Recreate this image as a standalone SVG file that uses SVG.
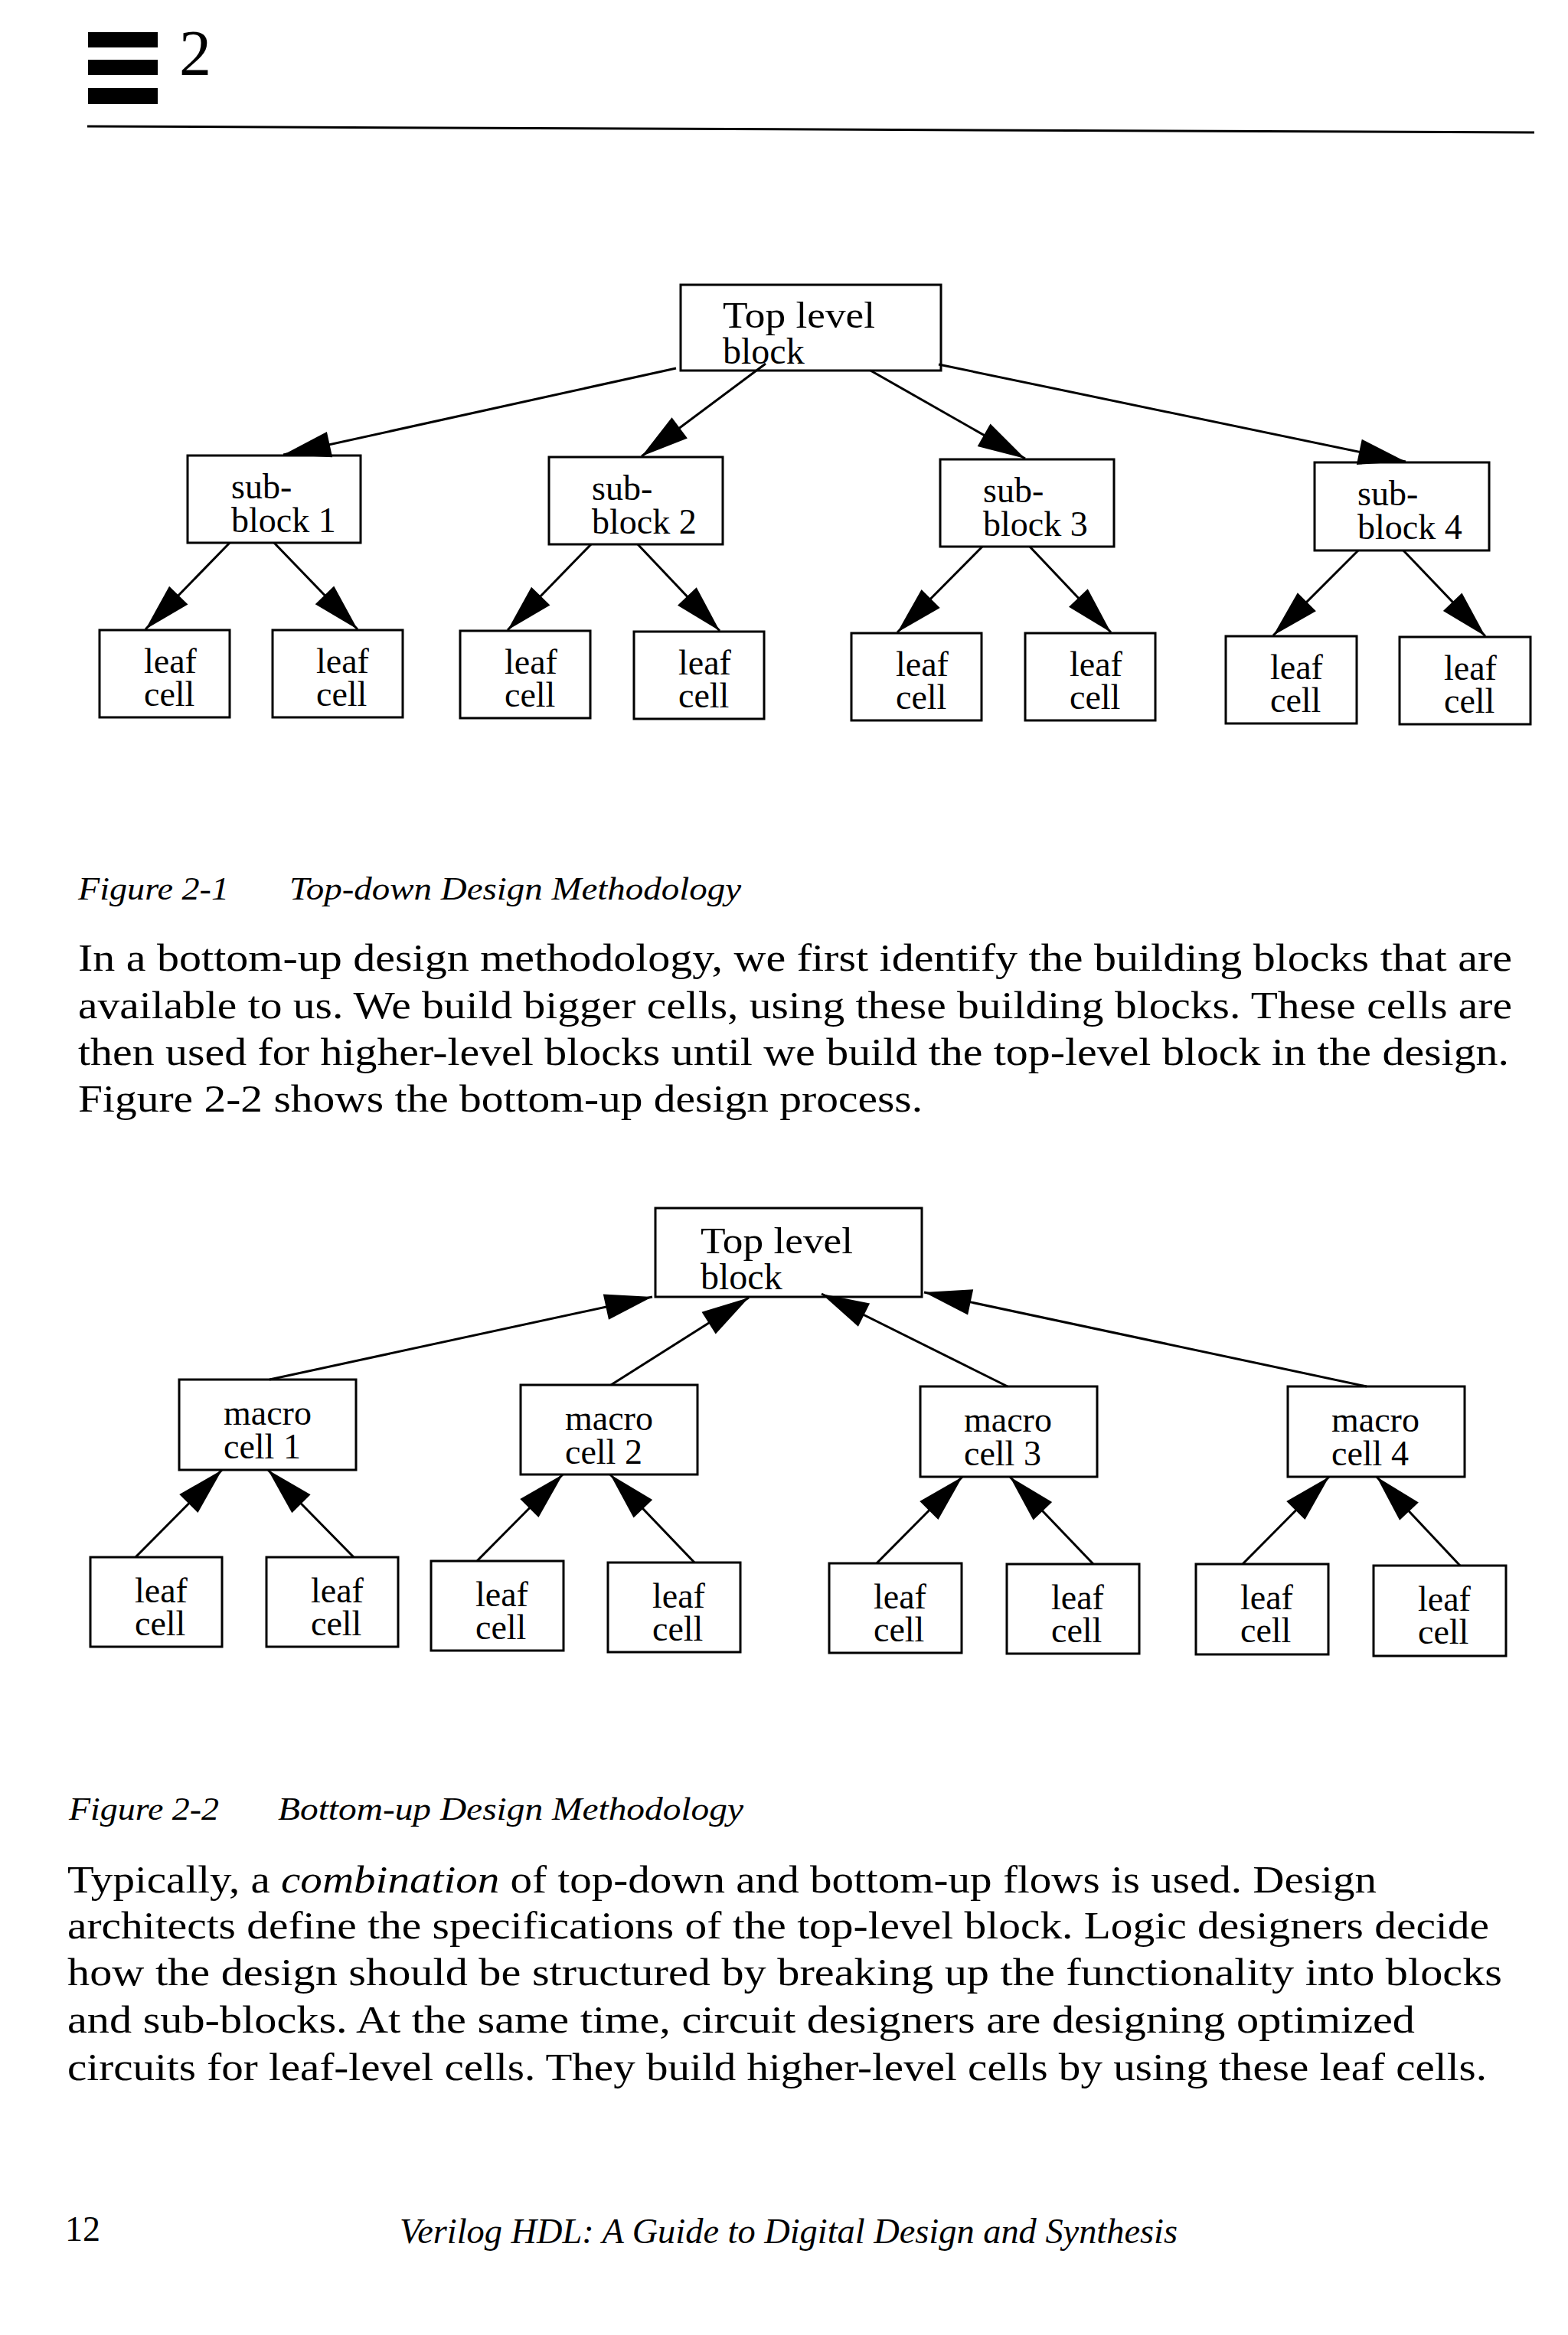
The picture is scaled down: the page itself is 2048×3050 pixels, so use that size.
<svg xmlns="http://www.w3.org/2000/svg" width="2048" height="3050" viewBox="0 0 2048 3050">
<style>
.box{fill:none;stroke:#000;stroke-width:3}
.lbl{font-family:"Liberation Serif","Times New Roman",serif;font-size:46px;fill:#000}
.toplbl{font-family:"Liberation Serif","Times New Roman",serif;font-size:48px;fill:#000}
.body{font-family:"Liberation Serif","Times New Roman",serif;font-size:50px;fill:#000}
.cap{font-family:"Liberation Serif","Times New Roman",serif;font-size:42px;font-style:italic;fill:#000}
.foot{font-family:"Liberation Serif","Times New Roman",serif;font-size:46px;fill:#000}
.conn line{stroke:#000;stroke-width:3;marker-end:url(#ah)}
</style>
<defs>
<marker id="ah" markerUnits="userSpaceOnUse" markerWidth="70" markerHeight="40" viewBox="-66 -20 70 40" refX="0" refY="0" orient="auto">
<path d="M0,0 L-62,-17 L-62,17 Z" fill="#000"/>
</marker>
</defs>
<rect x="0" y="0" width="2048" height="3050" fill="#fff"/>

<g id="header">
<rect x="115" y="42" width="91" height="20" fill="#000"/>
<rect x="115" y="78" width="91" height="20" fill="#000"/>
<rect x="115" y="115" width="91" height="21" fill="#000"/>
<text x="234" y="98" font-family="Liberation Serif, Times New Roman, serif" font-size="84">2</text>
<line x1="114" y1="165" x2="2004" y2="173" stroke="#000" stroke-width="3"/>
</g>

<!-- Figure 2-1 -->
<g id="fig1-top"><rect class="box" x="889" y="372" width="340" height="112"/><text class="toplbl"><tspan x="944" y="428" textLength="199" lengthAdjust="spacingAndGlyphs">Top level</tspan><tspan x="944" y="475">block</tspan></text></g>
<g id="fig1-sub1"><rect class="box" x="245" y="595" width="226" height="114"/><text class="lbl"><tspan x="302" y="651">sub-</tspan><tspan x="302" y="695">block 1</tspan></text></g>
<g id="fig1-sub2"><rect class="box" x="717" y="597" width="227" height="114"/><text class="lbl"><tspan x="773" y="653">sub-</tspan><tspan x="773" y="697">block 2</tspan></text></g>
<g id="fig1-sub3"><rect class="box" x="1228" y="600" width="227" height="114"/><text class="lbl"><tspan x="1284" y="656">sub-</tspan><tspan x="1284" y="700">block 3</tspan></text></g>
<g id="fig1-sub4"><rect class="box" x="1717" y="604" width="228" height="115"/><text class="lbl"><tspan x="1773" y="660">sub-</tspan><tspan x="1773" y="704">block 4</tspan></text></g>
<g id="fig1-leaf1"><rect class="box" x="130" y="823" width="170" height="114"/><text class="lbl"><tspan x="188" y="879">leaf</tspan><tspan x="188" y="922">cell</tspan></text></g>
<g id="fig1-leaf2"><rect class="box" x="356" y="823" width="170" height="114"/><text class="lbl"><tspan x="413" y="879">leaf</tspan><tspan x="413" y="922">cell</tspan></text></g>
<g id="fig1-leaf3"><rect class="box" x="601" y="824" width="170" height="114"/><text class="lbl"><tspan x="659" y="880">leaf</tspan><tspan x="659" y="923">cell</tspan></text></g>
<g id="fig1-leaf4"><rect class="box" x="828" y="825" width="170" height="114"/><text class="lbl"><tspan x="886" y="881">leaf</tspan><tspan x="886" y="924">cell</tspan></text></g>
<g id="fig1-leaf5"><rect class="box" x="1112" y="827" width="170" height="114"/><text class="lbl"><tspan x="1170" y="883">leaf</tspan><tspan x="1170" y="926">cell</tspan></text></g>
<g id="fig1-leaf6"><rect class="box" x="1339" y="827" width="170" height="114"/><text class="lbl"><tspan x="1397" y="883">leaf</tspan><tspan x="1397" y="926">cell</tspan></text></g>
<g id="fig1-leaf7"><rect class="box" x="1601" y="831" width="171" height="114"/><text class="lbl"><tspan x="1659" y="887">leaf</tspan><tspan x="1659" y="930">cell</tspan></text></g>
<g id="fig1-leaf8"><rect class="box" x="1828" y="832" width="171" height="114"/><text class="lbl"><tspan x="1886" y="888">leaf</tspan><tspan x="1886" y="931">cell</tspan></text></g>

<g id="fig1-connectors" class="conn">
<line x1="883" y1="481" x2="370" y2="594"/>
<line x1="1000" y1="475" x2="838" y2="596"/>
<line x1="1137" y1="484" x2="1339" y2="599"/>
<line x1="1226" y1="476" x2="1836" y2="603"/>
<line x1="300" y1="709" x2="190" y2="822"/>
<line x1="358" y1="709" x2="467" y2="822"/>
<line x1="772" y1="711" x2="663" y2="823"/>
<line x1="833" y1="711" x2="940" y2="824"/>
<line x1="1283" y1="714" x2="1172" y2="826"/>
<line x1="1345" y1="714" x2="1451" y2="826"/>
<line x1="1774" y1="719" x2="1663" y2="830"/>
<line x1="1833" y1="719" x2="1940" y2="831"/>
</g>

<g id="caption1">
<text class="cap" x="102" y="1175" textLength="197" lengthAdjust="spacingAndGlyphs">Figure 2-1</text>
<text class="cap" x="378" y="1175" textLength="590" lengthAdjust="spacingAndGlyphs">Top-down Design Methodology</text>
</g>
<g id="para1">
<text class="body" x="102" y="1268" textLength="1873" lengthAdjust="spacingAndGlyphs">In a bottom-up design methodology, we first identify the building blocks that are</text>
<text class="body" x="102" y="1330" textLength="1873" lengthAdjust="spacingAndGlyphs">available to us. We build bigger cells, using these building blocks. These cells are</text>
<text class="body" x="102" y="1391" textLength="1869" lengthAdjust="spacingAndGlyphs">then used for higher-level blocks until we build the top-level block in the design.</text>
<text class="body" x="102" y="1452" textLength="1103" lengthAdjust="spacingAndGlyphs">Figure 2-2 shows the bottom-up design process.</text>
</g>

<!-- Figure 2-2 -->
<g id="fig2-top"><rect class="box" x="856" y="1578" width="348" height="116"/><text class="toplbl"><tspan x="915" y="1637" textLength="199" lengthAdjust="spacingAndGlyphs">Top level</tspan><tspan x="915" y="1684">block</tspan></text></g>
<g id="fig2-macro1"><rect class="box" x="234" y="1802" width="231" height="118"/><text class="lbl"><tspan x="292" y="1861">macro</tspan><tspan x="292" y="1905">cell 1</tspan></text></g>
<g id="fig2-macro2"><rect class="box" x="680" y="1809" width="231" height="117"/><text class="lbl"><tspan x="738" y="1868">macro</tspan><tspan x="738" y="1912">cell 2</tspan></text></g>
<g id="fig2-macro3"><rect class="box" x="1202" y="1811" width="231" height="118"/><text class="lbl"><tspan x="1259" y="1870">macro</tspan><tspan x="1259" y="1914">cell 3</tspan></text></g>
<g id="fig2-macro4"><rect class="box" x="1682" y="1811" width="231" height="118"/><text class="lbl"><tspan x="1739" y="1870">macro</tspan><tspan x="1739" y="1914">cell 4</tspan></text></g>
<g id="fig2-leaf1"><rect class="box" x="118" y="2034" width="172" height="117"/><text class="lbl"><tspan x="176" y="2093">leaf</tspan><tspan x="176" y="2136">cell</tspan></text></g>
<g id="fig2-leaf2"><rect class="box" x="348" y="2034" width="172" height="117"/><text class="lbl"><tspan x="406" y="2093">leaf</tspan><tspan x="406" y="2136">cell</tspan></text></g>
<g id="fig2-leaf3"><rect class="box" x="563" y="2039" width="173" height="117"/><text class="lbl"><tspan x="621" y="2098">leaf</tspan><tspan x="621" y="2141">cell</tspan></text></g>
<g id="fig2-leaf4"><rect class="box" x="794" y="2041" width="173" height="117"/><text class="lbl"><tspan x="852" y="2100">leaf</tspan><tspan x="852" y="2143">cell</tspan></text></g>
<g id="fig2-leaf5"><rect class="box" x="1083" y="2042" width="173" height="117"/><text class="lbl"><tspan x="1141" y="2101">leaf</tspan><tspan x="1141" y="2144">cell</tspan></text></g>
<g id="fig2-leaf6"><rect class="box" x="1315" y="2043" width="173" height="117"/><text class="lbl"><tspan x="1373" y="2102">leaf</tspan><tspan x="1373" y="2145">cell</tspan></text></g>
<g id="fig2-leaf7"><rect class="box" x="1562" y="2043" width="173" height="118"/><text class="lbl"><tspan x="1620" y="2102">leaf</tspan><tspan x="1620" y="2145">cell</tspan></text></g>
<g id="fig2-leaf8"><rect class="box" x="1794" y="2045" width="173" height="118"/><text class="lbl"><tspan x="1852" y="2104">leaf</tspan><tspan x="1852" y="2147">cell</tspan></text></g>

<g id="fig2-connectors" class="conn">
<line x1="352" y1="1802" x2="852" y2="1694"/>
<line x1="798" y1="1809" x2="978" y2="1695"/>
<line x1="1316" y1="1811" x2="1073" y2="1690"/>
<line x1="1785" y1="1811" x2="1207" y2="1688"/>
<line x1="177" y1="2034" x2="290" y2="1920"/>
<line x1="462" y1="2034" x2="350" y2="1920"/>
<line x1="623" y1="2039" x2="735" y2="1926"/>
<line x1="907" y1="2041" x2="797" y2="1926"/>
<line x1="1145" y1="2042" x2="1257" y2="1929"/>
<line x1="1428" y1="2043" x2="1319" y2="1929"/>
<line x1="1623" y1="2043" x2="1736" y2="1929"/>
<line x1="1907" y1="2045" x2="1798" y2="1929"/>
</g>

<g id="caption2">
<text class="cap" x="90" y="2377" textLength="196" lengthAdjust="spacingAndGlyphs">Figure 2-2</text>
<text class="cap" x="363" y="2377" textLength="608" lengthAdjust="spacingAndGlyphs">Bottom-up Design Methodology</text>
</g>
<g id="para2">
<text class="body" x="88" y="2472" textLength="1710" lengthAdjust="spacingAndGlyphs">Typically, a <tspan font-style="italic">combination</tspan> of top-down and bottom-up flows is used. Design</text>
<text class="body" x="88" y="2532" textLength="1857" lengthAdjust="spacingAndGlyphs">architects define the specifications of the top-level block. Logic designers decide</text>
<text class="body" x="88" y="2593" textLength="1874" lengthAdjust="spacingAndGlyphs">how the design should be structured by breaking up the functionality into blocks</text>
<text class="body" x="88" y="2655" textLength="1760" lengthAdjust="spacingAndGlyphs">and sub-blocks. At the same time, circuit designers are designing optimized</text>
<text class="body" x="88" y="2717" textLength="1854" lengthAdjust="spacingAndGlyphs">circuits for leaf-level cells. They build higher-level cells by using these leaf cells.</text>
</g>

<g id="footer">
<text class="foot" x="85" y="2927">12</text>
<text class="foot" x="522" y="2930" font-style="italic" textLength="1016" lengthAdjust="spacingAndGlyphs">Verilog HDL: A Guide to Digital Design and Synthesis</text>
</g>
</svg>
